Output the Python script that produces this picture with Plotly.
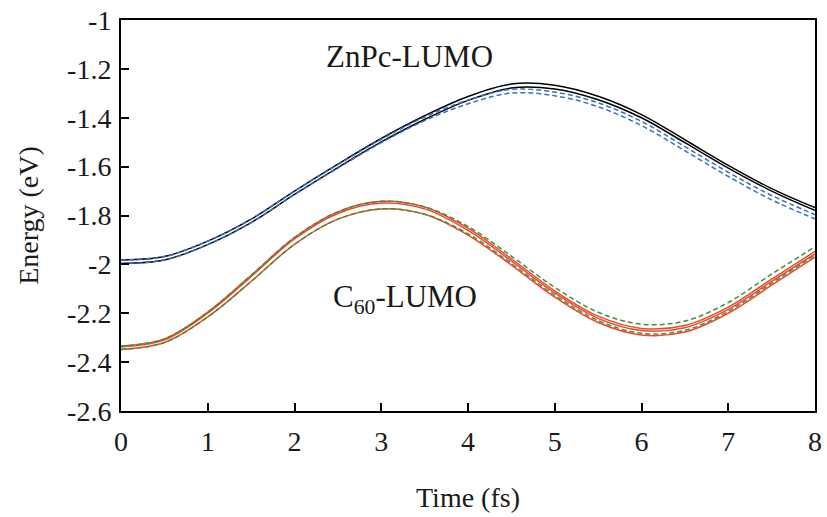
import plotly.graph_objects as go

# Time axis (fs)
time_fs = [0, 0.5, 1, 1.5, 2, 2.5, 3, 3.5, 4, 4.5, 5, 5.5, 6, 6.5, 7, 7.5, 8]

# ZnPc LUMO energies (eV)
znpc_solid_a = [-1.982, -1.968, -1.905, -1.815, -1.700, -1.590, -1.485, -1.392, -1.313,
                -1.262, -1.267, -1.312, -1.387, -1.490, -1.595, -1.690, -1.768]
znpc_solid_b = [-1.996, -1.982, -1.919, -1.829, -1.714, -1.604, -1.499, -1.407, -1.329,
                -1.278, -1.282, -1.326, -1.400, -1.502, -1.606, -1.700, -1.779]
znpc_dash_a = [-1.982, -1.968, -1.905, -1.815, -1.700, -1.592, -1.488, -1.397, -1.328,
               -1.284, -1.295, -1.339, -1.415, -1.518, -1.623, -1.718, -1.796]
znpc_dash_b = [-1.996, -1.982, -1.919, -1.829, -1.714, -1.606, -1.502, -1.412, -1.343,
               -1.299, -1.310, -1.355, -1.432, -1.535, -1.640, -1.736, -1.814]

# C60 LUMO energies (eV)
c60_solid_a = [-2.334, -2.305, -2.195, -2.045, -1.890, -1.785, -1.742, -1.765, -1.852,
               -1.977, -2.108, -2.212, -2.262, -2.250, -2.175, -2.060, -1.947]
c60_solid_b = [-2.338, -2.309, -2.200, -2.050, -1.896, -1.792, -1.749, -1.773, -1.861,
               -1.986, -2.117, -2.221, -2.271, -2.259, -2.184, -2.070, -1.957]
c60_solid_c = [-2.348, -2.320, -2.215, -2.070, -1.918, -1.815, -1.773, -1.795, -1.880,
               -2.003, -2.134, -2.238, -2.289, -2.277, -2.200, -2.085, -1.970]
c60_dash_a = [-2.334, -2.305, -2.195, -2.045, -1.890, -1.785, -1.742, -1.765, -1.845,
              -1.966, -2.094, -2.196, -2.245, -2.232, -2.156, -2.040, -1.928]
c60_dash_b = [-2.348, -2.320, -2.215, -2.070, -1.918, -1.815, -1.773, -1.795, -1.875,
              -1.996, -2.126, -2.230, -2.282, -2.270, -2.192, -2.077, -1.962]

x_ticks = [0, 1, 2, 3, 4, 5, 6, 7, 8]
y_ticks = [-1, -1.2, -1.4, -1.6, -1.8, -2, -2.2, -2.4, -2.6]
y_tick_text = ["-1", "-1.2", "-1.4", "-1.6", "-1.8", "-2", "-2.2", "-2.4", "-2.6"]

BLACK = "#000000"
BLUE = "#3d6cc0"
RED = "#f0462d"
GREEN = "#3a9440"
DASH = "5px,3px"
FONT = "Liberation Serif, Times New Roman, serif"
TEXT = "#1a1a1a"

fig = go.Figure()


def add_line(y, color, dash=None, width=1.5):
    fig.add_trace(go.Scatter(
        x=time_fs, y=y, mode="lines",
        line=dict(color=color, width=width, dash=dash, shape="spline", smoothing=1.0),
        showlegend=False, hoverinfo="skip",
    ))


add_line(znpc_solid_a, BLACK)
add_line(znpc_solid_b, BLACK)
add_line(znpc_dash_a, BLUE, DASH)
add_line(znpc_dash_b, BLUE, DASH)

add_line(c60_solid_a, RED)
add_line(c60_solid_b, RED)
add_line(c60_solid_c, RED)
add_line(c60_dash_a, GREEN, DASH)
add_line(c60_dash_b, GREEN, DASH)

fig.add_annotation(x=3.33, y=-1.15, text="ZnPc-LUMO", showarrow=False,
                   font=dict(family=FONT, size=31, color=TEXT))
fig.add_annotation(x=3.27, y=-2.14, text="C<sub>60</sub>-LUMO", showarrow=False,
                   font=dict(family=FONT, size=31, color=TEXT))

fig.update_layout(
    width=827, height=517,
    margin=dict(l=121, r=5, t=17, b=106),
    paper_bgcolor="white", plot_bgcolor="white",
    font=dict(family=FONT, size=28, color=TEXT),
    xaxis=dict(
        range=[0, 8], tickvals=x_ticks, ticktext=[str(v) for v in x_ticks],
        ticks="inside", ticklen=8, tickwidth=1.5, tickcolor="black",
        showline=True, linecolor="black", linewidth=2, mirror=True,
        showgrid=False, zeroline=False, ticklabelstandoff=4,
        title=dict(text="Time (fs)", font=dict(family=FONT, size=28, color=TEXT), standoff=32),
        tickfont=dict(family=FONT, size=28, color=TEXT),
    ),
    yaxis=dict(
        range=[-2.6, -1], tickvals=y_ticks, ticktext=y_tick_text,
        ticks="inside", ticklen=8, tickwidth=1.5, tickcolor="black",
        showline=True, linecolor="black", linewidth=2, mirror=True,
        showgrid=False, zeroline=False, ticklabelstandoff=2,
        title=dict(text="Energy (eV)", font=dict(family=FONT, size=28, color=TEXT), standoff=20),
        tickfont=dict(family=FONT, size=28, color=TEXT),
    ),
)

fig.write_html("out.html")
